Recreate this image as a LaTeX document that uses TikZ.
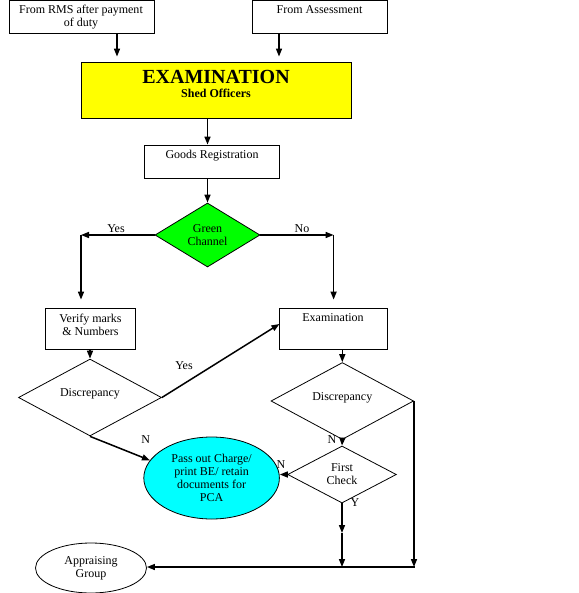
\documentclass[tikz,border=0pt]{standalone}
\usepackage{fontspec}
\setmainfont{Liberation Serif}
\usetikzlibrary{shapes.geometric,arrows.meta}
\definecolor{shedYellow}{RGB}{255,255,0}
\definecolor{chanGreen}{RGB}{0,255,0}
\definecolor{passCyan}{RGB}{0,255,255}

\begin{document}
\begin{tikzpicture}[x=1pt, y=-1pt,
        every node/.style={font=\fontsize{12}{13}\selectfont, inner sep=0pt, align=center},
        box/.style={draw, line width=0.8pt, rectangle},
        decide/.style={draw, line width=0.8pt, diamond},
        blob/.style={draw, line width=0.8pt, ellipse},
        arr/.style={line width=1.5pt, -{Triangle[length=8pt, width=6pt]}}]
                \useasboundingbox (0, 0) rectangle (578, 593);

                \node[box, minimum width=145pt, minimum height=33pt] (rms) at (81.5, 16.5) {};
                \node (rmsT) at (81, 17) {From RMS after payment\\of duty};
                \node[box, minimum width=135pt, minimum height=33pt] (assess) at (319.5, 16.5) {};
                \node (assessT) at (319.5, 10) {From Assessment};

                \node[box, fill=shedYellow, minimum width=270pt, minimum height=56pt] (exam) at (216.5, 90) {};
                \node[font=\fontsize{20}{20}\selectfont\bfseries] (examT) at (216, 77) {EXAMINATION};
                \node[font=\fontsize{12}{13}\selectfont\bfseries] (shedT) at (216, 93) {Shed Officers};

                \node[box, minimum width=135pt, minimum height=33pt] (goods) at (212, 161.5) {};
                \node (goodsT) at (212, 156) {Goods Registration};

                \node[decide, fill=chanGreen, minimum width=105pt, minimum height=64pt] (green) at (207.5, 235) {Green\\Channel};

                \node[box, minimum width=90pt, minimum height=41pt] (verify) at (90.5, 328.5) {};
                \node (verifyT) at (90.5, 324.5) {Verify marks\\\& Numbers};
                \node[box, minimum width=107.5pt, minimum height=41pt] (examR) at (333.6, 328.5) {};
                \node (examRT) at (333, 318) {Examination};

                \node[decide, minimum width=143pt, minimum height=49pt, text depth=9pt] (discL) at (90, 397.5) {Discrepancy};
                \node[decide, minimum width=142.6pt, minimum height=56pt, text depth=9pt] (discR) at (342.3, 401) {Discrepancy};
                \node[decide, minimum width=108.7pt, minimum height=57pt] (fc) at (342, 474.5) {First\\Check};

                \node[blob, fill=passCyan, minimum width=135.6pt, minimum height=82pt] (pass) at (211.6, 478) {Pass out Charge/\\print BE/ retain\\documents for\\PCA};
                \node[blob, minimum width=111pt, minimum height=50pt] (appr) at (91, 568) {Appraising\\Group};

                \coordinate (yesC) at (81, 235);
                \coordinate (noC) at (333.6, 235);
                \coordinate (midY) at (342, 533);
                \coordinate (botM) at (342, 567);
                \coordinate (botR) at (414.7, 567);

                \draw[arr, shorten >=5pt] ([xshift=35.5pt]rms.south) -- ([xshift=35.5pt]rms.south |- exam.north);
                \draw[arr, shorten >=5pt] ([xshift=-40.5pt]assess.south) -- ([xshift=-40.5pt]assess.south |- exam.north);
                \draw[arr] (exam.south -| green.north) -- (goods.north -| green.north);
                \draw[arr] (goods.south -| green.north) -- (green.north);

                \draw[arr] (green.west) -- (yesC);
                \draw[arr, shorten >=8pt] (yesC) -- (yesC |- verify.north);
                \draw[arr] (green.east) -- (noC);
                \draw[arr, shorten >=8pt] (noC) -- (noC |- examR.north);
                \node (yesA) at (116, 229) {Yes};
                \node (noA) at (302, 229) {No};

                \draw[arr] (verify.south -| discL.north) -- (discL.north);
                \draw[arr] (discL.east) -- ([yshift=4.5pt]examR.west);
                \node (yesB) at (184, 366) {Yes};
                \draw[arr] (discL.south) -- (pass.164.7);
                \node (nA) at (145.6, 440) {N};

                \draw[arr] (examR.south -| discR.north) -- (discR.north);
                \draw[arr] (discR.south) -- (fc.north);
                \node (nB) at (332, 440) {N};
                \draw[arr] (fc.west) -- (fc.west -| pass.east);
                \node (nC) at (281, 465) {N};
                \draw[arr] (fc.south) -- (midY);
                \draw[arr] (midY) -- (botM);
                \node (yA) at (355, 503) {Y};

                \draw[arr] (discR.east) -- (discR.east |- botR);
                \draw[arr] (botR) -- (botR -| appr.east);
\end{tikzpicture}
\end{document}
